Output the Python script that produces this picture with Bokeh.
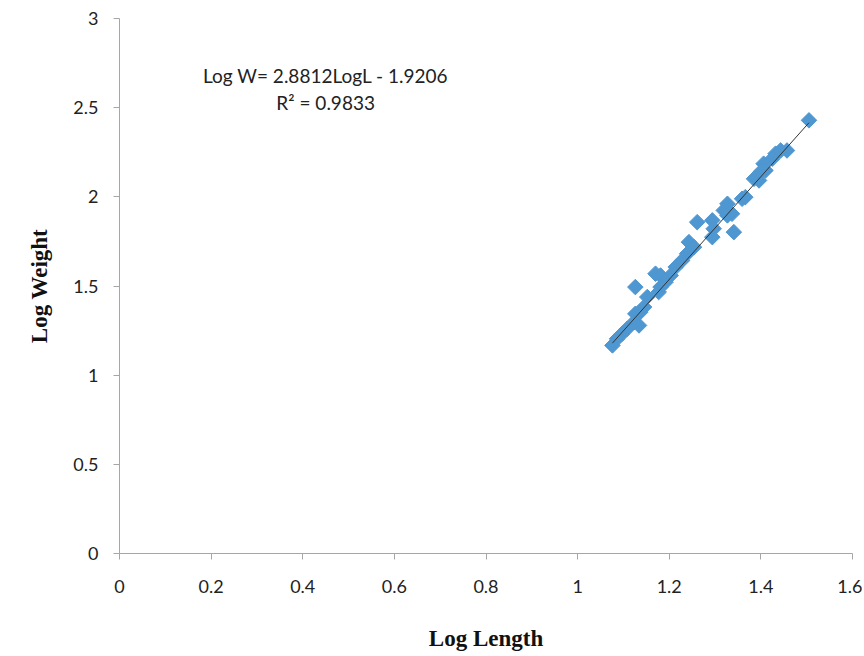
import numpy as np
from bokeh.plotting import figure
from bokeh.models import Range1d, FixedTicker, Label, ColumnDataSource
from bokeh.embed import file_html
from bokeh.resources import INLINE

# data
log_length = [1.505, 1.457, 1.443, 1.432, 1.425, 1.406, 1.410, 1.399, 1.385, 1.396,
              1.366, 1.359, 1.327, 1.319, 1.337, 1.327, 1.261, 1.294, 1.297, 1.341,
              1.294, 1.243, 1.254, 1.239, 1.228, 1.214, 1.170, 1.181, 1.203, 1.192,
              1.181, 1.177, 1.126, 1.152, 1.145, 1.137, 1.126, 1.123, 1.134, 1.108,
              1.097, 1.086, 1.076]
log_weight = [2.429, 2.260, 2.260, 2.242, 2.214, 2.186, 2.148, 2.139, 2.101, 2.092,
              1.998, 1.989, 1.961, 1.924, 1.905, 1.896, 1.858, 1.868, 1.821, 1.802,
              1.774, 1.746, 1.718, 1.681, 1.643, 1.606, 1.569, 1.559, 1.559, 1.522,
              1.494, 1.466, 1.494, 1.438, 1.382, 1.354, 1.344, 1.297, 1.279, 1.260,
              1.232, 1.204, 1.167]
slope = 2.8812
intercept = -1.9206
r_squared = 0.9833
x_ticks = [0, 0.2, 0.4, 0.6, 0.8, 1, 1.2, 1.4, 1.6]
y_ticks = [0, 0.5, 1, 1.5, 2, 2.5, 3]

p = figure(frame_width=733, frame_height=535, output_backend="svg", toolbar_location=None,
           x_range=Range1d(0, 1.6), y_range=Range1d(0, 3),
           min_border_left=119, min_border_right=10, min_border_top=18, min_border_bottom=100)
p.outline_line_color = None
p.xgrid.visible = False
p.ygrid.visible = False
p.background_fill_color = "white"
p.border_fill_color = "white"

src = ColumnDataSource(dict(x=log_length, y=log_weight))
p.scatter("x", "y", source=src, marker="square", size=11, angle=np.pi / 4,
          fill_color="#4F97D1", line_color="#4F97D1", line_width=1)

xl = np.array([min(log_length), max(log_length)])
p.line(xl, slope * xl + intercept, line_color="#333333", line_width=1)

for ax, ticks in ((p.xaxis[0], x_ticks), (p.yaxis[0], y_ticks)):
    ax.ticker = FixedTicker(ticks=ticks)
    ax.axis_line_color = "#A6A6A6"
    ax.major_tick_line_color = "#A6A6A6"
    ax.minor_tick_line_color = None
    ax.major_tick_in = 0
    ax.major_tick_out = 6
    ax.major_label_text_font = "Lato"
    ax.major_label_text_font_size = "18px"
    ax.major_label_text_color = "#222222"
    ax.axis_label_text_font = "Liberation Serif"
    ax.axis_label_text_font_style = "bold"
    ax.axis_label_text_font_size = "23px"
    ax.axis_label_text_color = "#111111"

p.xaxis[0].axis_label = "Log Length"
p.yaxis[0].axis_label = "Log Weight"
p.xaxis[0].major_label_standoff = 20
p.xaxis[0].axis_label_standoff = 30
p.yaxis[0].major_label_standoff = 15
p.yaxis[0].axis_label_standoff = 18
p.xaxis[0].major_label_overrides = {t: f"{t:g}" for t in x_ticks}
p.yaxis[0].major_label_overrides = {t: f"{t:g}" for t in y_ticks}

eq1 = f"Log W= {slope}LogL - {abs(intercept)}"
eq2 = f"R² = {r_squared}"
p.add_layout(Label(x=0.45, y=2.681, text=eq1, text_align="center", text_baseline="middle",
                   text_font="Lato", text_font_size="19px", text_color="#222222"))
p.add_layout(Label(x=0.45, y=2.53, text=eq2, text_align="center", text_baseline="middle",
                   text_font="Lato", text_font_size="19px", text_color="#222222"))

open("out.html", "w").write(file_html(p, INLINE))
